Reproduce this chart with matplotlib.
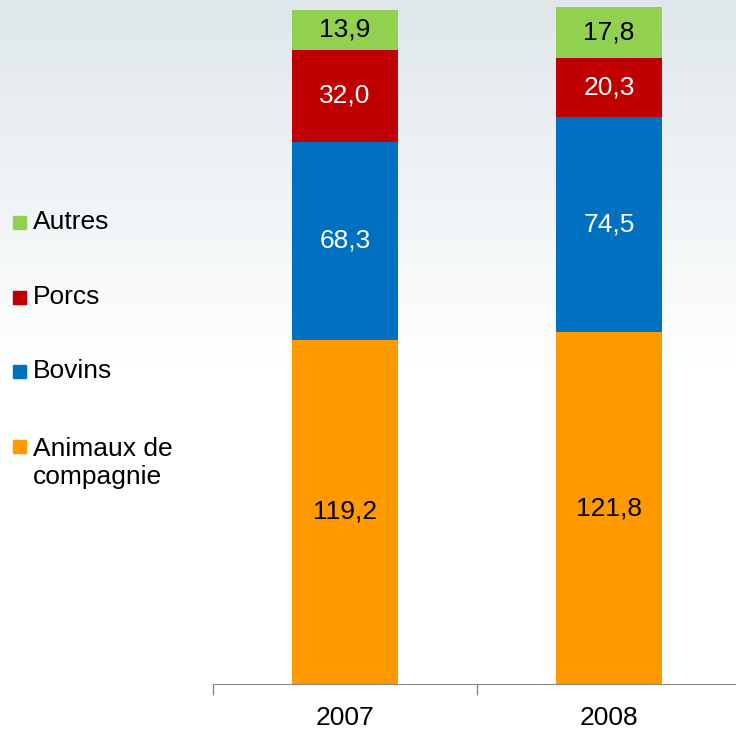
import matplotlib.pyplot as plt
import numpy as np
from matplotlib.patches import Rectangle
from matplotlib.colors import LinearSegmentedColormap

plt.rcParams['font.family'] = ['Liberation Sans', 'DejaVu Sans']

#------ data ------
years = ['2007', '2008']
series = ['Animaux de\ncompagnie', 'Bovins', 'Porcs', 'Autres']
animaux = [119.2, 121.8]
bovins = [68.3, 74.5]
porcs = [32.0, 20.3]
autres = [13.9, 17.8]

colors = ['#ff9900', '#0070c0', '#c00000', '#92d050']
text_colors = ['black', 'white', 'white', 'black']

fig = plt.figure(figsize=(7.36, 7.32), dpi=100)

#background gradient (light blue-grey at top to white at bottom)
bg = fig.add_axes([0, 0, 1, 1], zorder=-10)
cmap = LinearSegmentedColormap.from_list('bg', ['#ffffff', '#ffffff', '#dfe7eb'])
grad = np.linspace(0, 1, 256).reshape(-1, 1)
bg.imshow(grad, aspect='auto', cmap=cmap, origin='lower', extent=[0, 1, 0, 1])
bg.axis('off')

#main axes, right tick sits just outside the picture
ax = fig.add_axes([213/736, 48/732, 528/736, 684/732])
ax.patch.set_alpha(0)
x = np.arange(len(years))
bottom = np.zeros(len(years))
for vals, col, tcol in zip([animaux, bovins, porcs, autres], colors, text_colors):
    bars = ax.bar(x, vals, width=0.405, bottom=bottom, color=col, linewidth=0)
    labels = [f'{v:.1f}'.replace('.', ',') for v in vals]
    ax.bar_label(bars, labels=labels, label_type='center', color=tcol, fontsize=19)
    bottom += np.array(vals)

ax.set_xlim(-0.5, 1.5)
ax.set_ylim(0, 236.7)
ax.set_xticks([-0.5, 0.5, 1.5])
ax.set_xticklabels([])
ax.set_xticks(x, minor=True)
ax.set_xticklabels(years, minor=True, fontsize=19)
ax.tick_params(axis='x', which='major', length=8, color='#888888', width=1)
ax.tick_params(axis='x', which='minor', length=0, pad=16)
ax.set_yticks([])
for s in ['left', 'right', 'top']:
    ax.spines[s].set_visible(False)
ax.spines['bottom'].set_color('#888888')

#legend drawn by hand to keep the wide spacing
leg_y = [446, 371, 297, 222]
for lab, col, yy in zip(series, colors, leg_y):
    fig.patches.append(Rectangle((13/736, 1 - (yy + 6.5)/732), 13/736, 13/732,
                                 transform=fig.transFigure, color=col))
    ty = yy + 17 if '\n' in lab else yy
    fig.text(33/736, 1 - ty/732, lab, fontsize=19, va='center',
             ha='left', linespacing=1.2)

fig.savefig('out.png', dpi=100)
